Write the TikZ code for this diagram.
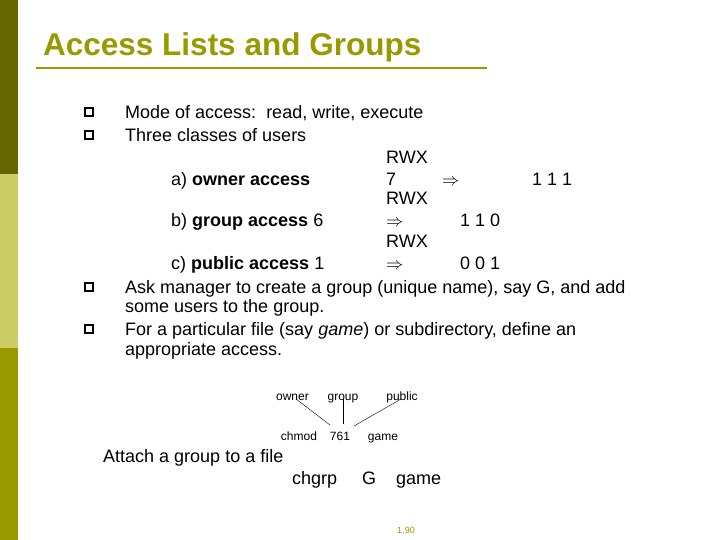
\documentclass[tikz,border=0pt]{standalone}
\usepackage{fontspec}
\setmainfont{Liberation Sans}
\usepackage{amssymb}
\definecolor{dk}{HTML}{666600}
\definecolor{lt}{HTML}{CCCC66}
\definecolor{md}{HTML}{999900}
\begin{document}
\begin{tikzpicture}[x=1pt,y=-1pt,
  t/.style={anchor=west,inner sep=0pt,yshift=-4pt,text height=0.72em,text depth=0.2em,font=\fontsize{18}{20}\selectfont},
  s/.style={anchor=center,inner sep=0pt,yshift=-2pt,text height=0.72em,text depth=0.2em,font=\fontsize{12}{14}\selectfont},
  bul/.style={draw=black,line width=1.3pt,minimum size=8pt,inner sep=0pt}]
\useasboundingbox (0,0) rectangle (720,540);
\fill[dk] (0,0) rectangle (18,174);
\fill[lt] (0,174) rectangle (18,348);
\fill[md] (0,348) rectangle (18,540);
\node[anchor=west,inner sep=0pt,yshift=-7pt,text height=0.72em,text depth=0.2em,text=md,font=\fontsize{31.5}{33}\selectfont\bfseries] (title) at (43,46) {Access Lists and Groups};
\draw[md,line width=1.5pt] (36,68) -- (487,68);
\node[bul] (b1) at (89,112) {}; \node[t] (l1) at (125,112) {Mode of access:\ \ read, write, execute};
\node[bul] (b2) at (89,135) {}; \node[t] (l2) at (125,135) {Three classes of users};
\node[t] (r1) at (386,157) {RWX};
\node[t] (a) at (171,179) {a) \textbf{owner access}};
\node[t] (a7) at (386,179) {7};
\node[t] (aa) at (442,179) {$\Rightarrow$};
\node[t] (ab) at (532,179) {1 1 1};
\node[t] (r2) at (386,198) {RWX};
\node[t] (b) at (171,220) {b) \textbf{group access} 6};
\node[t] (ba) at (386,220) {$\Rightarrow$};
\node[t] (bb) at (460,220) {1 1 0};
\node[t] (r3) at (386,241) {RWX};
\node[t] (c) at (171,263) {c) \textbf{public access} 1};
\node[t] (ca) at (386,263) {$\Rightarrow$};
\node[t] (cb) at (460,263) {0 0 1};
\node[bul] (b3) at (89,287) {}; \node[t] (l3) at (125,287) {Ask manager to create a group (unique name), say G, and add};
\node[t] (l3b) at (125,306) {some users to the group.};
\node[bul] (b4) at (89,329) {}; \node[t] (l4) at (125,329) {For a particular file (say \textit{game}) or subdirectory, define an};
\node[t] (l4b) at (125,349) {appropriate access.};
\node[s] (ow) at (292.5,396) {owner};
\node[s] (gr) at (343,396) {group};
\node[s] (pu) at (402,396) {public};
\node[s] (ch) at (299,436) {chmod};
\node[s] (n761) at (340,436) {761};
\node[s] (gm) at (383,436) {game};
\draw (296,399) coordinate (o1) -- (330,425) coordinate (o2);
\draw (343,399) coordinate (g1) -- (343,424) coordinate (g2);
\draw (401,399) coordinate (p1) -- (354,426) coordinate (p2);
\node[t] (att) at (103,456) {Attach a group to a file};
\node[t] (cg) at (292,478) {chgrp};
\node[t] (G) at (362,478) {G};
\node[t] (g2n) at (396,478) {game};
\node[s,text=md,font=\fontsize{9}{10}\selectfont] (pg) at (406,529) {1.90};
\end{tikzpicture}
\end{document}
